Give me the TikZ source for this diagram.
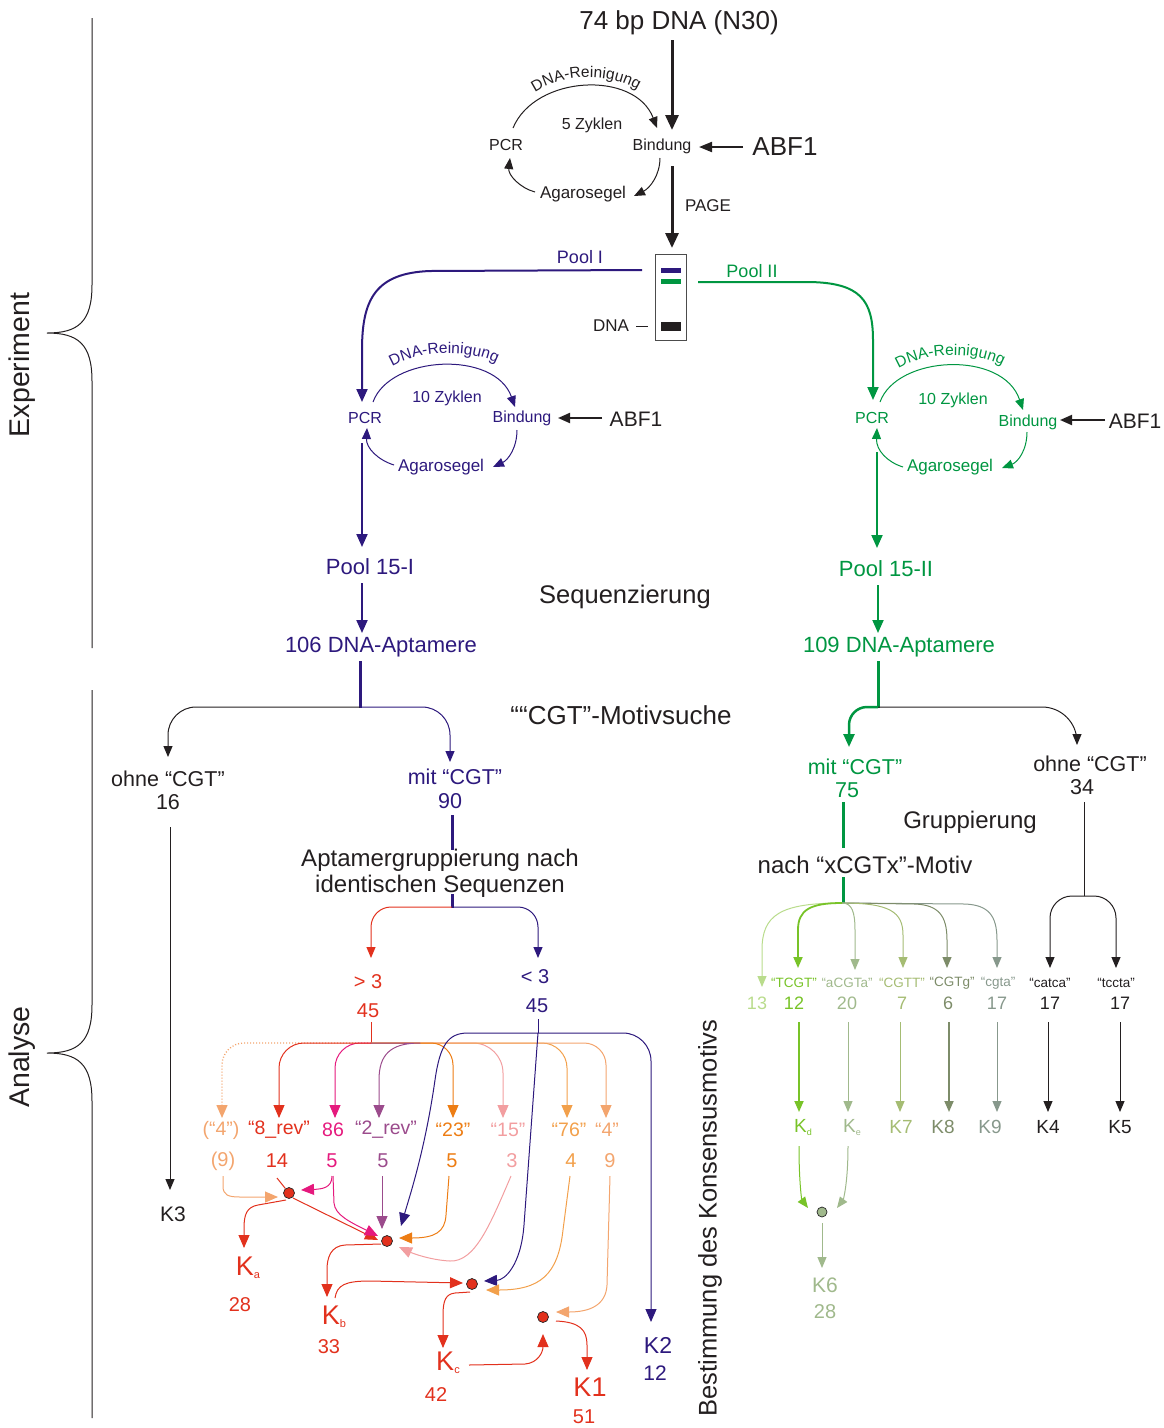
\documentclass[tikz,border=0pt]{standalone}
\usepackage{fontspec}
\setmainfont{Liberation Sans}
\usetikzlibrary{arrows.meta,decorations.text}
\newcommand\fsz[1]{\fontsize{#1}{#1}\selectfont}
\definecolor{txt}{RGB}{35,31,32}
\definecolor{pur}{RGB}{45,25,125}
\definecolor{grn}{RGB}{0,150,65}
\definecolor{kred}{RGB}{226,49,29}
\definecolor{mag}{RGB}{229,25,125}
\definecolor{revp}{RGB}{155,75,140}
\definecolor{org}{RGB}{237,125,20}
\definecolor{pnk}{RGB}{242,158,160}
\definecolor{lor}{RGB}{242,160,75}
\definecolor{lorb}{RGB}{243,165,110}
\definecolor{ga}{RGB}{185,220,140}
\definecolor{gb}{RGB}{120,195,40}
\definecolor{gc}{RGB}{160,185,140}
\definecolor{gd}{RGB}{165,188,115}
\definecolor{ge}{RGB}{125,140,105}
\definecolor{gf}{RGB}{135,152,140}
\begin{document}
\begin{tikzpicture}[x=1pt,y=-1pt,
  lb/.style={inner sep=0pt,text=txt},
  ar/.style={-{Triangle[length=11pt,width=9pt]}, line width=1pt},
  arb/.style={-{Triangle[length=13pt,width=11pt]}, line width=1pt, line join=round},
  big/.style={-{Triangle[length=15pt,width=13pt]}, line width=3pt, draw=txt},
  mid/.style={-{Triangle[length=13pt,width=11pt]}, line width=2pt},
  kdot/.style={circle, draw=black!85, line width=0.7pt, fill=kred, minimum size=11pt, inner sep=0pt},
  brace/.style={line width=1pt, draw=txt},
]
\useasboundingbox (0,0) rectangle (1164,1428);

% braces
\draw[brace] (92,18) -- (92,285) .. controls (92,322) and (78,333) .. (47,333) .. controls (78,333) and (92,344) .. (92,381) -- (92,648);
\draw[brace] (92,690) -- (92,1005) .. controls (92,1042) and (78,1053) .. (47,1053) .. controls (78,1053) and (92,1064) .. (92,1101) -- (92,1418);
\node[lb,rotate=90,font=\fsz{28.5}] (exp) at (22,365) {Experiment};
\node[lb,rotate=90,font=\fsz{28.5}] (ana) at (22,1057) {Analyse};

% top cycle
\node[lb,font=\fsz{26}] (title) at (679,23) {74 bp DNA (N30)};
\node[lb,font=\fsz{16}] (bind0) at (662,146) {Bindung};
\node[lb,font=\fsz{26}] (abf0) at (785,147) {ABF1};
\node[lb,font=\fsz{16}] (pcr0) at (506,145) {PCR};
\node[lb,font=\fsz{16}] (zyk0) at (592,125) {5 Zyklen};
\node[lb,font=\fsz{17}] (aga0) at (583,194) {Agarosegel};
\node[lb,font=\fsz{17}] (page) at (708,206) {PAGE};
\draw[big] (672,40) -- (672,130);
\draw[big] (672,166) -- (672,248);
\draw[-{Triangle[length=13pt,width=10pt]}, line width=2pt, txt] (743,147) -- (699,147);
\draw[ar,txt] (513,128) .. controls (535,75) and (635,70) .. (657,128);
\draw[ar,txt] (660,158) .. controls (660,175) and (650,188) .. (634,196);
\draw[ar,txt] (535,192) .. controls (520,188) and (508,175) .. (510,158);
\path[decorate,decoration={text along path,text align=center,text color=txt,text={|\fsz{15.5}|DNA-Reinigung}}] (526,100) .. controls (552,72) and (618,69) .. (647,97);

% gel
\node[draw=black!70, line width=1pt, minimum width=31pt, minimum height=86pt, inner sep=0pt] (gel) at (670.5,297) {};
\fill[pur] (661,268) rectangle (681,272.5);
\fill[grn] (661,279) rectangle (681,283.5);
\fill[txt] (661,322) rectangle (681,331);
\node[lb,font=\fsz{17}] (dnal) at (611,326) {DNA};
\draw[line width=1pt,txt] (636,326) -- (648,326);
\node[lb,font=\fsz{18},text=pur] (pool1) at (580,257) {Pool I};
\node[lb,font=\fsz{18},text=grn] (pool2) at (752,271) {Pool II};
\draw[mid,pur] (642,270) -- (430,271) .. controls (375,273) and (362,300) .. (362,350) -- (362,402);
\draw[mid,grn] (698,282) -- (810,282) .. controls (860,283) and (873,300) .. (873,340) -- (873,400);

% left cycle
\node[lb,font=\fsz{16},text=pur] (pcr1) at (365,418) {PCR};
\node[lb,font=\fsz{16},text=pur] (zyk1) at (447,398) {10 Zyklen};
\node[lb,font=\fsz{16},text=pur] (bind1) at (522,418) {Bindung};
\node[lb,font=\fsz{17},text=pur] (aga1) at (441,467) {Agarosegel};
\node[lb,font=\fsz{21}] (abf1) at (636,419) {ABF1};
\draw[-{Triangle[length=12pt,width=10pt]}, line width=2pt, txt] (602,418) -- (558,418);
\draw[ar,pur] (373,402) .. controls (390,355) and (495,350) .. (515,407);
\draw[ar,pur] (517,430) .. controls (517,448) and (508,460) .. (493,467);
\draw[ar,pur] (394,465) .. controls (378,460) and (366,448) .. (367,428);
\path[decorate,decoration={text along path,text align=center,text color=pur,text={|\fsz{15.5}|DNA-Reinigung}}] (385,372) .. controls (410,349) and (478,347) .. (504,368);
\draw[mid,pur] (362,443) -- (362,547);
\node[lb,font=\fsz{22},text=pur] (p15a) at (370,567) {Pool 15-I};
\draw[mid,pur] (362,583) -- (362,633);
\node[lb,font=\fsz{22},text=pur] (apt1) at (381,647) {106 DNA-Aptamere};

% right cycle
\node[lb,font=\fsz{16},text=grn] (pcr2) at (872,418) {PCR};
\node[lb,font=\fsz{16},text=grn] (zyk2) at (953,400) {10 Zyklen};
\node[lb,font=\fsz{16},text=grn] (bind2) at (1028,422) {Bindung};
\node[lb,font=\fsz{17},text=grn] (aga2) at (950,467) {Agarosegel};
\node[lb,font=\fsz{21}] (abf2) at (1135,421) {ABF1};
\draw[-{Triangle[length=12pt,width=10pt]}, line width=2pt, txt] (1105,420) -- (1060,420);
\draw[ar,grn] (880,402) .. controls (897,355) and (1003,350) .. (1023,410);
\draw[ar,grn] (1027,432) .. controls (1027,450) and (1018,462) .. (1002,468);
\draw[ar,grn] (903,467) .. controls (887,462) and (876,450) .. (877,428);
\path[decorate,decoration={text along path,text align=center,text color=grn,text={|\fsz{15.5}|DNA-Reinigung}}] (891,374) .. controls (915,351) and (983,348) .. (1010,371);
\draw[mid,grn] (877,452) -- (877,548);
\node[lb,font=\fsz{22},text=grn] (p15b) at (886,569) {Pool 15-II};
\draw[mid,grn] (878,585) -- (878,633);
\node[lb,font=\fsz{22},text=grn] (apt2) at (899,647) {109 DNA-Aptamere};
\node[lb,font=\fsz{25.5}] (seq) at (625,597) {Sequenzierung};

% analyse left
\draw[pur,line width=3pt] (360,661) -- (360,708);
\draw[ar,txt,rounded corners=28pt] (360,707) -| (168,757);
\draw[ar,pur,rounded corners=28pt] (360,707) -| (450,762);
\node[lb,font=\fsz{21.5}] (ohne1) at (168,779) {ohne “CGT”};
\node[lb,font=\fsz{21.5}] (n16) at (168,802) {16};
\node[lb,font=\fsz{21.5},text=pur] (mit1) at (455,777) {mit “CGT”};
\node[lb,font=\fsz{21.5},text=pur] (n90) at (450,801) {90};
\node[lb,font=\fsz{26}] (motiv) at (621,715) {““CGT”-Motivsuche};
\draw[ar,txt] (170,827) -- (170,1190);
\node[lb,font=\fsz{21}] (k3) at (173,1214) {K3};
\draw[pur,line width=3pt] (452,815) -- (452,850);
\node[lb,font=\fsz{24}] (agr1) at (440,860) {Aptamergruppierung nach};
\node[lb,font=\fsz{24}] (agr2) at (440,886) {identischen Sequenzen};
\draw[pur,line width=3pt] (452,894) -- (452,908);
\draw[ar,kred,rounded corners=20pt] (452,907) -| (371,958);
\draw[ar,pur,rounded corners=20pt] (452,907) -| (538,958);
\node[lb,font=\fsz{20},text=kred] (gt3) at (368,982) {> 3};
\node[lb,font=\fsz{20},text=kred] (n45a) at (368,1011) {45};
\node[lb,font=\fsz{20},text=pur] (lt3) at (535,977) {< 3};
\node[lb,font=\fsz{20},text=pur] (n45b) at (537,1006) {45};

% red fan
\coordinate (J) at (371,1043);
\draw[kred,line width=1pt] (371,1022) -- (J);
\draw[arb,lorb,dotted,line width=1.4pt,rounded corners=22pt] (J) -| (222,1118);
\draw[arb,pnk,rounded corners=30pt] (J) -| (503,1118);
\draw[arb,lor,rounded corners=25pt] (J) -| (567,1118);
\draw[arb,lorb,rounded corners=22pt] (J) -| (606,1118);
\draw[arb,org,rounded corners=22pt] (J) -| (453,1118);
\draw[arb,revp] (J) -- (420,1043) .. controls (390,1043) and (379,1055) .. (379,1080) -- (379,1118);
\draw[arb,mag,rounded corners=25pt] (J) -| (335,1118);
\draw[arb,kred,rounded corners=25pt] (J) -| (279,1118);

\node[lb,font=\fsz{19.5},text=lorb] (l4p) at (221,1130) {(“4”)};
\node[lb,font=\fsz{19.5},text=kred] (l8r) at (279,1130) {“8\_rev”};
\node[lb,font=\fsz{19.5},text=mag] (l86) at (333,1130) {86};
\node[lb,font=\fsz{19.5},text=revp] (l2r) at (386,1130) {“2\_rev”};
\node[lb,font=\fsz{19.5},text=org] (l23) at (453,1130) {“23”};
\node[lb,font=\fsz{19.5},text=pnk] (l15) at (508,1130) {“15”};
\node[lb,font=\fsz{19.5},text=lor] (l76) at (569,1130) {“76”};
\node[lb,font=\fsz{19.5},text=lorb] (l4) at (607,1130) {“4”};
\node[lb,font=\fsz{20},text=lorb] (n9p) at (223,1161) {(9)};
\node[lb,font=\fsz{20},text=kred] (n14) at (277,1161) {14};
\node[lb,font=\fsz{20},text=mag] (n5a) at (332,1161) {5};
\node[lb,font=\fsz{20},text=revp] (n5b) at (383,1161) {5};
\node[lb,font=\fsz{20},text=org] (n5c) at (452,1161) {5};
\node[lb,font=\fsz{20},text=pnk] (n3) at (512,1161) {3};
\node[lb,font=\fsz{20},text=lor] (n4) at (571,1161) {4};
\node[lb,font=\fsz{20},text=lorb] (n9) at (610,1161) {9};

% purple from <3
\coordinate (PJ) at (538,1033);
\draw[pur,line width=1pt] (538,1019) -- (PJ);
\draw[arb,pur] (PJ) -- (524,1225) .. controls (521,1265) and (505,1280) .. (484,1281);
\draw[arb,pur] (PJ) -- (468,1033) .. controls (448,1033) and (440,1045) .. (435,1080) .. controls (425,1150) and (410,1195) .. (401,1226);
\draw[arb,pur,rounded corners=28pt] (PJ) -| (651,1322);
\node[lb,font=\fsz{23},text=pur] (k2) at (658,1345) {K2};
\node[lb,font=\fsz{21},text=pur] (n12b) at (655,1373) {12};

% dots and merges
\node[kdot] (d1) at (289,1193) {};
\node[kdot] (d2) at (387,1241) {};
\node[kdot] (d3) at (472,1284) {};
\node[kdot] (d4) at (543,1317) {};
\draw[arb,lorb] (223,1176) -- (223,1186) .. controls (223,1195) and (228,1197) .. (240,1197) -- (278,1197);
\draw[arb,mag] (332,1176) .. controls (332,1188) and (322,1189) .. (301,1190);
\draw[kred,line width=1pt] (277,1178) -- (d1);
\draw[arb,kred] (286,1200) -- (258,1205) .. controls (247,1207) and (244,1214) .. (244,1228) -- (244,1248);
\draw[arb,kred] (293,1198) -- (378,1240);
\draw[arb,mag] (333,1176) -- (334,1203) .. controls (335,1215) and (350,1222) .. (378,1236);
\draw[arb,revp] (382,1176) -- (382,1229);
\draw[arb,org] (449,1176) -- (446,1215) .. controls (445,1232) and (435,1238) .. (399,1238);
\draw[arb,pnk] (511,1176) .. controls (490,1225) and (475,1262) .. (450,1261) .. controls (430,1260) and (412,1253) .. (399,1247);
\node[lb,font=\fsz{27},text=kred] (ka) at (248,1268) {K\raisebox{-3pt}{\fsz{11}a}};
\node[lb,font=\fsz{20},text=kred] (n28a) at (240,1305) {28};
\draw[arb,kred] (381,1244) -- (345,1245) .. controls (331,1246) and (327,1257) .. (327,1270) -- (327,1297);
\node[lb,font=\fsz{27},text=kred] (kb) at (334,1317) {K\raisebox{-3pt}{\fsz{11}b}};
\node[lb,font=\fsz{20},text=kred] (n33) at (329,1347) {33};
\draw[arb,kred] (335,1298) .. controls (337,1285) and (345,1281) .. (370,1281) -- (463,1283);
\draw[arb,lor] (570,1176) -- (563,1230) .. controls (558,1275) and (540,1290) .. (486,1290);
\draw[arb,kred] (470,1292) -- (455,1293) .. controls (446,1294) and (443,1300) .. (443,1315) -- (443,1348);
\node[lb,font=\fsz{27},text=kred] (kc) at (448,1363) {K\raisebox{-3pt}{\fsz{11}c}};
\node[lb,font=\fsz{20},text=kred] (n42) at (436,1394) {42};
\draw[arb,kred] (469,1365) -- (525,1364) .. controls (538,1363) and (543,1352) .. (543,1334);
\draw[arb,lorb] (610,1176) -- (607,1285) .. controls (606,1305) and (590,1312) .. (556,1312);
\draw[arb,kred] (556,1321) .. controls (580,1322) and (587,1330) .. (587,1345) -- (587,1370);
\node[lb,font=\fsz{27},text=kred] (k1) at (590,1387) {K1};
\node[lb,font=\fsz{20},text=kred] (n51) at (584,1417) {51};

% right analyse
\draw[grn,line width=3pt] (878,661) -- (878,708);
\draw[grn,line width=2.5pt,-{Triangle[length=13pt,width=11pt]},rounded corners=18pt] (878,707) -| (849,747);
\draw[ar,txt,rounded corners=35pt] (878,707) -| (1077,745);
\node[lb,font=\fsz{21.5},text=grn] (mit2) at (855,767) {mit “CGT”};
\node[lb,font=\fsz{21.5},text=grn] (n75) at (847,790) {75};
\node[lb,font=\fsz{21.5}] (ohne2) at (1090,764) {ohne “CGT”};
\node[lb,font=\fsz{21.5}] (n34) at (1082,787) {34};
\node[lb,font=\fsz{24}] (grup) at (970,822) {Gruppierung};
\node[lb,font=\fsz{24}] (nach) at (865,865) {nach “xCGTx”-Motiv};
\draw[grn,line width=3pt] (843,802) -- (843,848);
\draw[grn,line width=3pt] (843,877) -- (843,903);
\draw[txt,line width=1pt] (1084,802) -- (1084,896);
\draw[ar,txt,rounded corners=22pt] (1084,896) -| (1050,968);
\draw[ar,txt,rounded corners=22pt] (1084,896) -| (1116,968);
\coordinate (GJ) at (842,903);
\draw[ar,ga] (GJ) .. controls (780,903) and (762,915) .. (762,950) -- (762,987);
\draw[ar,gf] (GJ) -- (965,904) .. controls (988,905) and (997,915) .. (997,940) -- (997,968);
\draw[ar,ge] (GJ) -- (915,904) .. controls (938,905) and (947,915) .. (947,940) -- (947,968);
\draw[ar,gd] (GJ) .. controls (890,903) and (903,912) .. (903,935) -- (903,968);
\draw[ar,gc] (GJ) .. controls (852,903) and (855,912) .. (855,930) -- (855,970);
\draw[ar,gb,line width=1.8pt] (GJ) .. controls (810,903) and (798,910) .. (798,930) -- (798,968);

\node[lb,font=\fsz{13.5},text=gb] (tTCGT) at (794,983) {“TCGT”};
\node[lb,font=\fsz{13.5},text=gc] (taCGTa) at (847,983) {“aCGTa”};
\node[lb,font=\fsz{13.5},text=gd] (tCGTT) at (902,983) {“CGTT”};
\node[lb,font=\fsz{13.5},text=ge] (tCGTg) at (952,983) {“CGTg”};
\node[lb,font=\fsz{13.5},text=gf] (tcgta) at (998,983) {“cgta”};
\node[lb,font=\fsz{13.5}] (tcatca) at (1050,983) {“catca”};
\node[lb,font=\fsz{13.5}] (ttccta) at (1116,983) {“tccta”};
\node[lb,font=\fsz{18},text=ga] (m13) at (757,1003) {13};
\node[lb,font=\fsz{18},text=gb] (m12) at (794,1003) {12};
\node[lb,font=\fsz{18},text=gc] (m20) at (847,1003) {20};
\node[lb,font=\fsz{18},text=gd] (m7) at (902,1003) {7};
\node[lb,font=\fsz{18},text=ge] (m6) at (948,1003) {6};
\node[lb,font=\fsz{18},text=gf] (m17a) at (997,1003) {17};
\node[lb,font=\fsz{18}] (m17b) at (1050,1003) {17};
\node[lb,font=\fsz{18}] (m17c) at (1120,1003) {17};
\draw[ar,gb,line width=1.8pt] (799,1022) -- (799,1112);
\draw[ar,gc] (848,1022) -- (848,1112);
\draw[ar,gd] (900,1022) -- (900,1112);
\draw[ar,ge,line width=1.8pt] (949,1022) -- (949,1112);
\draw[ar,gf] (997,1022) -- (997,1112);
\draw[ar,txt] (1048,1022) -- (1048,1112);
\draw[ar,txt] (1120,1022) -- (1120,1112);
\node[lb,font=\fsz{19},text=gb] (kd) at (803,1127) {K\raisebox{-3pt}{\fsz{9}d}};
\node[lb,font=\fsz{19},text=gc] (ke) at (852,1127) {K\raisebox{-3pt}{\fsz{9}e}};
\node[lb,font=\fsz{19},text=gd] (k7) at (901,1127) {K7};
\node[lb,font=\fsz{19},text=ge] (k8) at (943,1127) {K8};
\node[lb,font=\fsz{19},text=gf] (k9) at (990,1127) {K9};
\node[lb,font=\fsz{19}] (k4) at (1048,1127) {K4};
\node[lb,font=\fsz{19}] (k5) at (1120,1127) {K5};
\node[kdot,fill=gc,minimum size=10pt] (gdot) at (822,1212) {};
\draw[ar,gb] (799,1146) .. controls (799,1185) and (802,1200) .. (808,1208);
\draw[ar,gc] (848,1146) .. controls (848,1185) and (843,1200) .. (837,1208);
\draw[ar,gc] (822,1223) -- (822,1268);
\node[lb,font=\fsz{21},text=gc] (k6) at (825,1285) {K6};
\node[lb,font=\fsz{20},text=gc] (n28b) at (825,1312) {28};
\node[lb,rotate=90,font=\fsz{25.5}] (best) at (710,1218) {Bestimmung des Konsensusmotivs};
\end{tikzpicture}
\end{document}
